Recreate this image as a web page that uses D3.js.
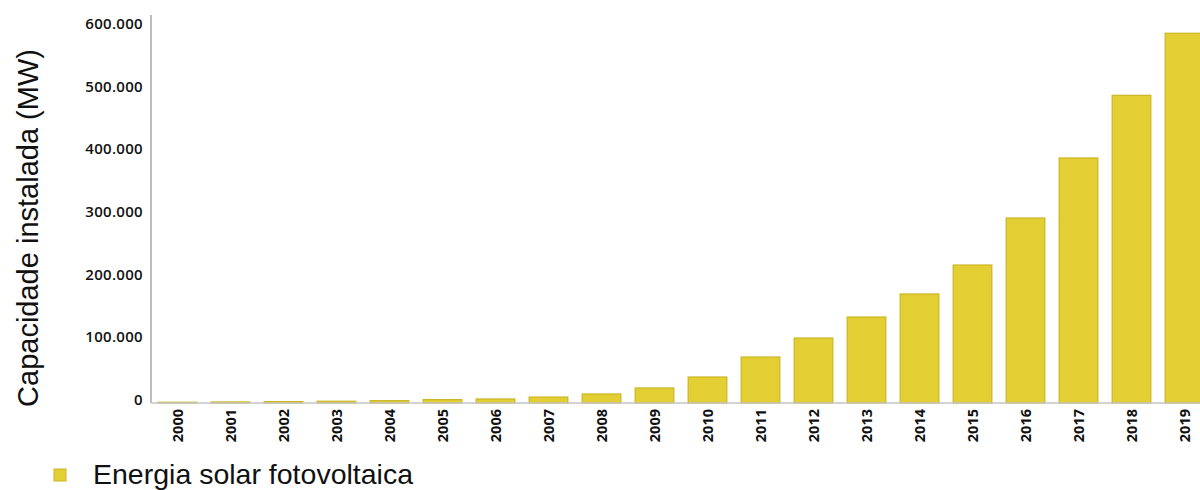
<!DOCTYPE html>
<html>
<head>
<meta charset="utf-8">
<script src="https://cdn.jsdelivr.net/npm/d3@7"></script>
<style>
  html, body { margin: 0; padding: 0; background: #fff; }
  svg { display: block; }
</style>
</head>
<body>
<svg id="chart" width="1200" height="490"></svg>
<script>
// Installed photovoltaic capacity per year (MW)
const years = ["2000","2001","2002","2003","2004","2005","2006","2007","2008","2009",
               "2010","2011","2012","2013","2014","2015","2016","2017","2018","2019"];
const capacity = [1200, 1700, 2200, 2800, 3700, 5400, 6400, 9500, 14400, 24000,
                  41500, 73400, 103700, 137200, 174000, 220200, 295200, 391000, 491000, 590000];
const yTicks = [0, 100000, 200000, 300000, 400000, 500000, 600000];
const yTickLabels = ["0", "100.000", "200.000", "300.000", "400.000", "500.000", "600.000"];
const seriesName = "Energia solar fotovoltaica";
const yTitle = "Capacidade instalada (MW)";

const svg = d3.select("#chart");
const plotLeft = 151, plotRight = 1211, plotTop = 15, baseline = 403;

const x = d3.scaleBand().domain(years).range([plotLeft, plotRight])
  .paddingInner(0.27).paddingOuter(0.135);
const y = d3.scaleLinear().domain([0, 600000]).range([baseline, baseline - 376]);

// bars
svg.append("g").selectAll("rect")
  .data(years.map((yr, i) => ({ yr, v: capacity[i] })))
  .join("rect")
  .attr("x", d => x(d.yr))
  .attr("y", d => y(d.v))
  .attr("width", x.bandwidth())
  .attr("height", d => baseline - y(d.v))
  .attr("fill", "#e3cf33")
  .attr("stroke", "#cbb625")
  .attr("stroke-width", 1.2);

// y axis
const yAxis = d3.axisLeft(y).tickValues(yTicks)
  .tickFormat((d, i) => yTickLabels[i]).tickSize(0).tickPadding(8);
const gy = svg.append("g").attr("transform", `translate(${plotLeft},0)`).call(yAxis);
gy.select(".domain").remove();
gy.selectAll("text")
  .attr("font-family", "'Open Sans', sans-serif")
  .attr("font-size", 15).attr("font-weight", 600).attr("fill", "#111")
  .attr("letter-spacing", "0.3px")
  .attr("dy", "0.1em");
svg.append("line")
  .attr("x1", plotLeft).attr("x2", plotLeft).attr("y1", plotTop).attr("y2", baseline)
  .attr("stroke", "#a9a9a9").attr("stroke-width", 1.5);

// x axis
const xAxis = d3.axisBottom(x).tickSize(0).tickPadding(0);
const gx = svg.append("g").attr("transform", `translate(0,${baseline})`).call(xAxis);
gx.select(".domain").remove();
gx.selectAll("text")
  .attr("font-family", "'Open Sans', sans-serif")
  .attr("font-size", 14.5).attr("font-weight", 700).attr("fill", "#111")
  .attr("text-anchor", "end")
  .attr("transform", "rotate(-90)")
  .attr("x", -6).attr("y", 0).attr("dy", "0.35em");
svg.append("line")
  .attr("x1", plotLeft).attr("x2", 1200).attr("y1", baseline).attr("y2", baseline)
  .attr("stroke", "#c4c4c4").attr("stroke-width", 1.5);

// y title
svg.append("text")
  .attr("transform", `translate(38,228) rotate(-90)`)
  .attr("text-anchor", "middle")
  .attr("font-family", "'Liberation Sans', Arial, sans-serif")
  .attr("font-size", 29).attr("fill", "#111")
  .text(yTitle);

// legend
svg.append("rect")
  .attr("x", 54).attr("y", 469).attr("width", 12).attr("height", 12)
  .attr("fill", "#e3cf33").attr("stroke", "#cbb625");
svg.append("text")
  .attr("x", 93).attr("y", 483.5)
  .attr("font-family", "'Liberation Sans', Arial, sans-serif")
  .attr("font-size", 28.5).attr("fill", "#111")
  .text(seriesName);
</script>
</body>
</html>
